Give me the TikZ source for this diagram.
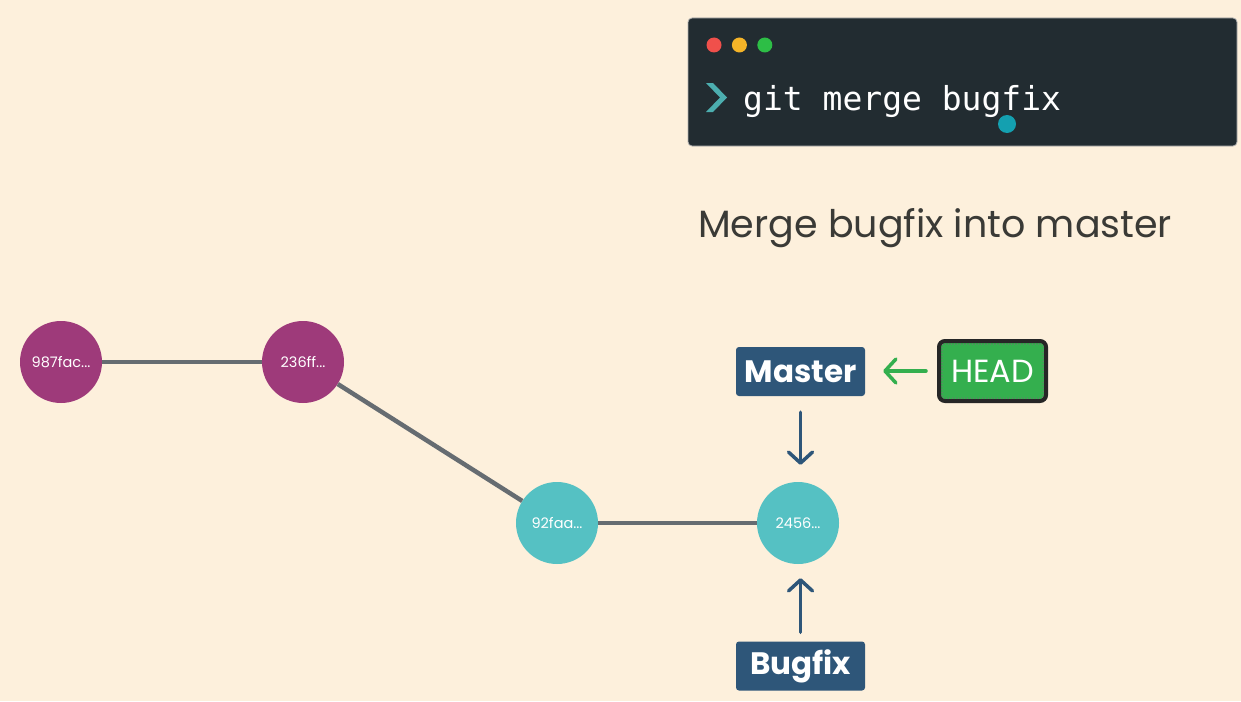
\documentclass[tikz,border=0pt]{standalone}
\usepackage{fontspec}
\setmainfont{Poppins}
\setmonofont{DejaVu Sans Mono}
\usetikzlibrary{arrows.meta,positioning}

\definecolor{paper}{HTML}{FDF0DC}
\definecolor{termbg}{HTML}{222C31}
\definecolor{plum}{HTML}{9E3A7A}
\definecolor{aqua}{HTML}{55C1C3}
\definecolor{navy}{HTML}{2E5679}
\definecolor{leaf}{HTML}{34AF4E}
\definecolor{slate}{HTML}{666C71}
\definecolor{ink}{HTML}{3A3A36}

\begin{document}
\begin{tikzpicture}[x=1pt,y=-1pt,
  commit/.style={circle,minimum size=82pt,inner sep=0pt,text=white,font=\fontsize{14.5}{14.5}\selectfont},
  branch/.style={fill=navy,rounded corners=3pt,text=white,font=\fontsize{31}{31}\selectfont\bfseries,
    minimum width=129pt,minimum height=49pt,inner sep=0pt},
  link/.style={draw=slate,line width=4.5pt},
  pointer/.style={line width=3.5pt,line cap=round,-{Straight Barb[length=11pt,width=24pt,round]}},
  light/.style={circle,inner sep=0pt,minimum size=15pt}]
\useasboundingbox (0,0) rectangle (1241,701);
\fill[paper] (0,0) rectangle (1241,701);

% terminal
\node[fill=termbg,draw=black!30,line width=0.8pt,rounded corners=4pt,minimum width=549pt,minimum height=128pt,inner sep=0pt] (term) at (962.5,82) {};
\node[light,fill={rgb,255:red,240;green,80;blue,75}] (red) at (714,45) {};
\node[light,fill={rgb,255:red,245;green,180;blue,40},right=10pt of red] (yellow) {};
\node[light,fill={rgb,255:red,45;green,190;blue,70},right=10pt of yellow] (green) {};
\fill[aqua!90!black] (706,83) -- (713,83) -- (727,97.5) -- (713,112) -- (706,112) -- (720,97.5) -- cycle;
\node[anchor=base west,inner sep=0pt,text=white,font=\ttfamily\fontsize{33}{33}\selectfont] (cmd) at (743,110) {git merge bugfix};
\node[circle,fill={rgb,255:red,20;green,160;blue,176},minimum size=18pt,inner sep=0pt] (cursor) at (1007,124) {};

% title
\node[anchor=base west,inner sep=0pt,text=ink,font=\fontsize{38}{38}\selectfont] (title) at (698,237) {Merge bugfix into master};

% commits
\node[commit,fill=plum] (c1) at (61,362) {987fac...};
\node[commit,fill=plum] (c2) at (303,362) {236ff...};
\node[commit,fill=aqua] (c3) at (557,523) {92faa...};
\node[commit,fill=aqua] (c4) at (798,523) {2456...};
\draw[link] (c1) -- (c2);
\draw[link] (c2) -- (c3);
\draw[link] (c3) -- (c4);

% branches
\node[branch] (master) at (800.5,371.5) {Master};
\node[branch] (bugfix) at (800.5,666) {Bugfix};
\node[draw=black!85,line width=4pt,fill=leaf,rounded corners=6pt,minimum width=107pt,minimum height=60pt,
  text=white,font=\fontsize{32}{32}\selectfont] (head) at (992.5,371) {HEAD};
\draw[dotted,draw=black!55,line width=1pt,rounded corners=2pt] ([shift={(5pt,5pt)}]head.south west) rectangle ([shift={(-5pt,-5pt)}]head.north east);

\draw[pointer,draw=leaf] ([xshift=-11pt]head.west) -- ([xshift=18pt]master.east |- head.west);
\draw[pointer,draw=navy] ([yshift=-16pt]master.south) -- ([yshift=17pt]master.south |- c4.north);
\draw[pointer,draw=navy] ([yshift=9pt]bugfix.north) -- ([yshift=-14pt]bugfix.north |- c4.south);
\end{tikzpicture}
\end{document}
